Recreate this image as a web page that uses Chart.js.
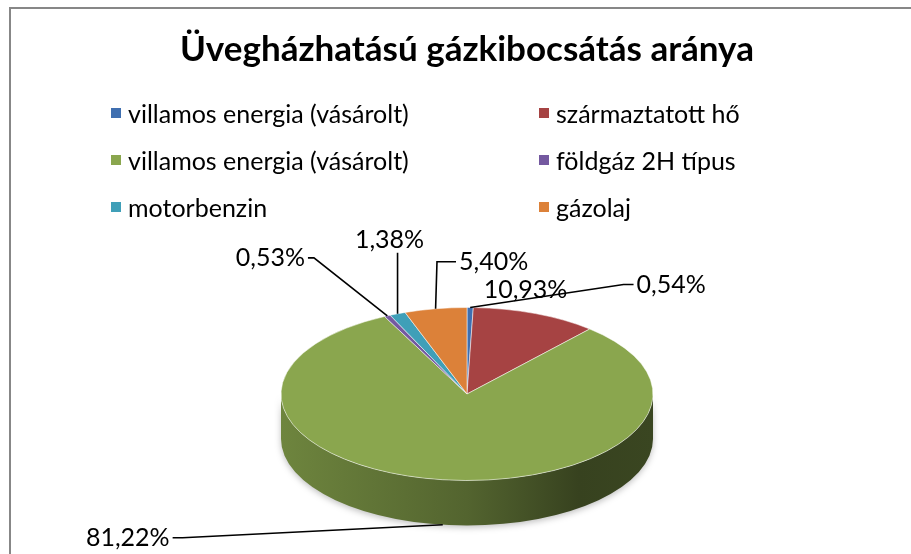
<!DOCTYPE html>
<html>
<head>
<meta charset="utf-8">
<script src="https://cdn.jsdelivr.net/npm/chart.js@4/dist/chart.umd.min.js"></script>
<style>
  html, body { margin: 0; padding: 0; background: #fff; }
  #wrap { position: relative; width: 911px; height: 554px; overflow: hidden; }
  #frame { position: absolute; left: 9px; top: 7px; right: -10px; bottom: -10px;
           border-left: 2px solid #878787; border-top: 2px solid #878787; pointer-events: none; }
  #legend { position: absolute; left: 0; top: 0; font-family: Lato, sans-serif; font-size: 25px; color: #000; }
  #legend .item { position: absolute; display: flex; align-items: center; white-space: nowrap; line-height: 1; }
  #legend .box { width: 10px; height: 10px; margin-right: 7px; }
</style>
</head>
<body>
<div id="wrap">
  <canvas id="chart" width="911" height="554"></canvas>
  <div id="legend"></div>
  <div id="frame"></div>
</div>
<script>
// data
const labels = [
    'villamos energia (vásárolt)',
    'származtatott hő',
    'villamos energia (vásárolt)',
    'földgáz 2H típus',
    'motorbenzin',
    'gázolaj'
];
const shares = [0.54, 10.93, 81.22, 0.53, 1.38, 5.40];
const colors = ['#3f6fb0', '#a64343', '#8aa64e', '#7459a0', '#3f9fb8', '#dc8139'];

// where each percentage label sits, relative to its slice edge
const labelPlacement = [
    { dx: 201, dy: -23, stub: 10 },
    { dx: -10, dy: -24 },
    { dx: -315, dy: 13, stub: 10 },
    { dx: -117, dy: -58, stub: 6 },
    { dx: -8, dy: -74, up: true },
    { dx: 58, dy: -47, stub: 19 }
];

function shade(hex, f) {
    let n = parseInt(hex.slice(1), 16);
    let r = Math.round(((n >> 16) & 255) * f);
    let g = Math.round(((n >> 8) & 255) * f);
    let b = Math.round((n & 255) * f);
    return `rgb(${r},${g},${b})`;
}

// ==============================================================
// tilted pie: side wall + squashed top surface
// ==============================================================
const pie3d = {
    id: 'pie3d',
    beforeDatasetsDraw(chart, args, opts) {
        let meta = chart.getDatasetMeta(0);
        let ctx = chart.ctx;
        let arc0 = meta.data[0];
        let cx = arc0.x, cy = arc0.y, r = arc0.outerRadius;
        let k = opts.tilt, depth = opts.depth;
        let bg = chart.data.datasets[0].backgroundColor;

        ctx.save();
        meta.data.forEach((arc, i) => {
            let a1 = Math.max(arc.startAngle, 0);
            let a2 = Math.min(arc.endAngle, Math.PI);
            if (a2 <= a1) return;
            let grad = ctx.createLinearGradient(cx - r, 0, cx + r, 0);
            grad.addColorStop(0, shade(bg[i], 0.8));
            grad.addColorStop(0.5, shade(bg[i], 0.6));
            grad.addColorStop(0.8, shade(bg[i], 0.4));
            grad.addColorStop(1, shade(bg[i], 0.42));
            ctx.beginPath();
            ctx.ellipse(cx, cy, r, r * k, 0, a1, a2);
            ctx.lineTo(cx + r * Math.cos(a2), cy + r * k * Math.sin(a2) + depth);
            ctx.ellipse(cx, cy + depth, r, r * k, 0, a2, a1, true);
            ctx.closePath();
            ctx.shadowColor = 'rgba(0,0,0,0.25)';
            ctx.shadowBlur = 6;
            ctx.shadowOffsetY = 2;
            ctx.fillStyle = grad;
            ctx.fill();
        });
        ctx.restore();

        ctx.save();
        ctx.translate(cx, cy);
        ctx.scale(1, k);
        ctx.translate(-cx, -cy);
    },
    afterDatasetsDraw(chart, args, opts) {
        let ctx = chart.ctx;
        ctx.restore();

        let meta = chart.getDatasetMeta(0);
        let values = chart.data.datasets[0].data;
        let k = opts.tilt, depth = opts.depth;
        ctx.save();
        ctx.font = opts.font;
        ctx.fillStyle = '#000';
        ctx.strokeStyle = '#000';
        ctx.lineWidth = 1.6;
        ctx.textBaseline = 'middle';
        ctx.textAlign = 'center';
        meta.data.forEach((arc, i) => {
            let p = opts.placement[i];
            let m = (arc.startAngle + arc.endAngle) / 2;
            let ax = arc.x + arc.outerRadius * Math.cos(m);
            let ay = arc.y + arc.outerRadius * k * Math.sin(m);
            if (Math.sin(m) > 0) ay += depth;
            let tx = ax + p.dx, ty = ay + p.dy;
            let txt = values[i].toFixed(2).replace('.', ',') + '%';
            let w = ctx.measureText(txt).width;
            ctx.fillText(txt, tx, ty);

            if (p.up) {
                ctx.beginPath();
                ctx.moveTo(ax, ay);
                ctx.lineTo(ax, ty + 13);
                ctx.stroke();
            } else if (p.stub) {
                let side = p.dx > 0 ? -1 : 1;
                let ex = tx + side * (w / 2 + 3);
                ctx.beginPath();
                ctx.moveTo(ax, ay);
                ctx.lineTo(ex + side * p.stub, ty);
                ctx.lineTo(ex, ty);
                ctx.stroke();
            }
        });
        ctx.restore();
    }
};

let chart = new Chart(document.getElementById('chart'), {
    type: 'pie',
    data: {
        labels: labels,
        datasets: [{
            data: shares,
            backgroundColor: colors,
            borderColor: 'rgba(255,255,255,0.7)',
            borderWidth: 1,
            clip: false
        }]
    },
    options: {
        responsive: false,
        animation: false,
        radius: 186,
        layout: {
            padding: { left: 100, right: 77, top: 0, bottom: 0 }
        },
        plugins: {
            title: {
                display: true,
                text: 'Üvegházhatású gázkibocsátás aránya',
                color: '#000',
                font: { family: 'Lato', size: 35, weight: 'bold' },
                padding: { top: 29, bottom: 163 }
            },
            legend: { display: false },
            tooltip: { enabled: false },
            pie3d: {
                tilt: 0.465,
                depth: 45,
                font: '25px Lato',
                placement: labelPlacement
            }
        }
    },
    plugins: [pie3d]
});

// legend, two columns
let legendEl = document.getElementById('legend');
let colX = [111, 539];
let rowY = [113, 160, 207];
labels.forEach((lbl, i) => {
    let item = document.createElement('div');
    item.className = 'item';
    item.style.left = colX[i % 2] + 'px';
    item.style.top = (rowY[Math.floor(i / 2)] - 14) + 'px';
    item.style.height = '28px';
    let box = document.createElement('span');
    box.className = 'box';
    box.style.background = colors[i];
    let t = document.createElement('span');
    t.textContent = lbl;
    item.appendChild(box);
    item.appendChild(t);
    legendEl.appendChild(item);
});
</script>
</body>
</html>
